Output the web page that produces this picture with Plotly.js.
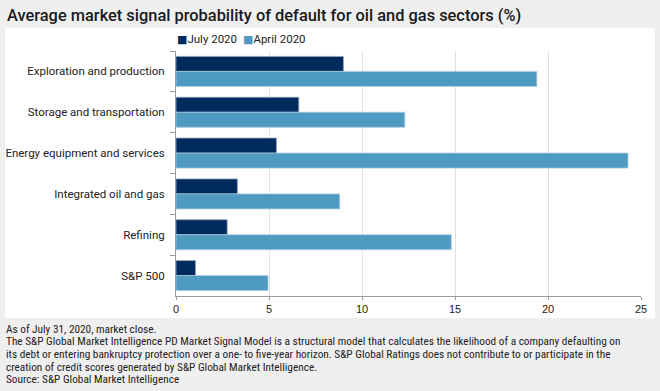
<!DOCTYPE html>
<html>
<head>
<meta charset="utf-8">
<script src="https://cdn.plot.ly/plotly-3.0.1.min.js"></script>
<style>html,body{margin:0;padding:0;background:#efefef;}#chart{width:660px;height:391px;}</style>
</head>
<body>
<div id="chart"></div>
<script>
const categories = ["Exploration and production", "Storage and transportation", "Energy equipment and services", "Integrated oil and gas", "Refining", "S&P 500"];
const july2020 = [9.0, 6.6, 5.4, 3.3, 2.75, 1.05];
const april2020 = [19.4, 12.3, 24.3, 8.8, 14.8, 4.95];
const seriesNames = ["July 2020", "April 2020"];
const seriesColors = ["#012b5d", "#4f9ac1"];
const xTicks = [0, 5, 10, 15, 20, 25];
const footerLines = [
  "As of July 31, 2020, market close.",
  "The S&P Global Market Intelligence PD Market Signal Model is a structural model that calculates the likelihood of a company defaulting on",
  "its debt or entering bankruptcy protection over a one- to five-year horizon. S&P Global Ratings does not contribute to or participate in the",
  "creation of credit scores generated by S&P Global Market Intelligence.",
  "Source: S&P Global Market Intelligence"
];

const W = 660, H = 391;
const L = 176, R = 19, T = 51, B = 95;
const pw = W - L - R, ph = H - T - B;
const px = x => (x - L) / pw;
const py = y => (H - B - y) / ph;

const traces = [
  {type: "bar", orientation: "h", name: seriesNames[0], y: categories, x: july2020,
   marker: {color: seriesColors[0], line: {color: "#8fa3bd", width: 0.8}}, hoverinfo: "x"},
  {type: "bar", orientation: "h", name: seriesNames[1], y: categories, x: april2020,
   marker: {color: seriesColors[1], line: {color: "#a9cbe0", width: 0.8}}, hoverinfo: "x"}
];

const mainFont = "Roboto, 'Open Sans', sans-serif";
const annotations = [];
const legendX = [176, 242];
seriesNames.forEach((n, i) => {
  annotations.push({
    text: "<span style='color:" + seriesColors[i] + ";font-size:11px;font-family:DejaVu Sans'>■</span>" + n,
    xref: "paper", yref: "paper", x: px(legendX[i]), y: py(39), xanchor: "left", yanchor: "middle",
    showarrow: false, borderpad: 0, font: {family: mainFont, size: 11.5, color: "#222"}
  });
});
footerLines.forEach((line, i) => {
  annotations.push({
    text: line, xref: "paper", yref: "paper", x: px(5), y: py(329 + i * 12.7),
    xanchor: "left", yanchor: "middle", align: "left", showarrow: false, borderpad: 0,
    font: {family: "'Liberation Sans Narrow', 'Roboto Condensed', sans-serif", size: 11.3, color: "#222"}
  });
});

const layout = {
  width: W, height: H,
  margin: {l: L, r: R, t: T, b: B, pad: 0},
  paper_bgcolor: "#efefef",
  plot_bgcolor: "#ffffff",
  barmode: "group",
  bargap: 0.265,
  bargroupgap: 0,
  showlegend: false,
  title: {text: "Average market signal probability of default for oil and gas sectors (%)",
          x: 7 / W, xanchor: "left", xref: "container", y: 1 - 15 / H, yanchor: "middle", yref: "container",
          font: {family: mainFont, size: 16.4, weight: 500, color: "#1a1a1a"}},
  xaxis: {range: [0, 25], tickvals: xTicks, ticktext: xTicks.map(String),
          showgrid: true, gridcolor: "#e2e2e2", gridwidth: 1, zeroline: false,
          showline: true, linecolor: "#9a9a9a", linewidth: 1,
          ticks: "outside", ticklen: 3, tickcolor: "#9a9a9a",
          tickfont: {family: "'Liberation Sans', Arial, sans-serif", size: 11, color: "#222"},
          fixedrange: true},
  yaxis: {autorange: "reversed", type: "category",
          showline: true, linecolor: "#9a9a9a", linewidth: 1,
          ticks: "outside", ticklen: 5, tickcolor: "#9a9a9a", tickson: "boundaries",
          ticklabelstandoff: 8,
          tickfont: {family: mainFont, size: 11.5, color: "#222"},
          showgrid: false, fixedrange: true},
  shapes: [
    {type: "rect", xref: "paper", yref: "paper", x0: px(5), x1: px(655), y0: py(318), y1: py(28),
     fillcolor: "#ffffff", line: {width: 0}, layer: "below"}
  ],
  annotations: annotations
};

Plotly.newPlot("chart", traces, layout, {displayModeBar: false, staticPlot: true});
</script>
</body>
</html>
